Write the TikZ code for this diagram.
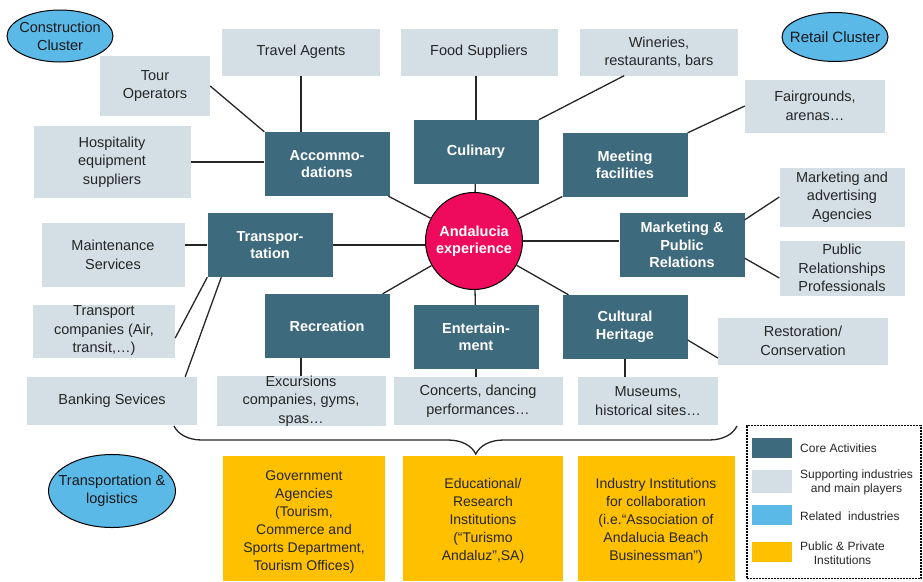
\documentclass[tikz,border=0pt]{standalone}
\usepackage{fontspec}
\setmainfont{Liberation Sans}
\usetikzlibrary{shapes.geometric,decorations.pathreplacing,calc}
\definecolor{corec}{HTML}{3E6A7E}
\definecolor{suppc}{HTML}{D3DFE5}
\definecolor{relc}{HTML}{5BB9E8}
\definecolor{pubc}{HTML}{FFC000}
\definecolor{hubc}{HTML}{EE0A5C}
\begin{document}
\begin{tikzpicture}[x=1pt,y=-1pt,
  corebox/.style={fill=corec, text=white, font=\fontsize{14.5}{17.5}\selectfont\bfseries, align=center, inner sep=0pt, minimum width=125pt, minimum height=64pt},
  suppbox/.style={fill=suppc, text=black!85, font=\fontsize{14.5}{18.5}\selectfont, align=center, inner sep=0pt},
  pubbox/.style={fill=pubc, text=black!85, font=\fontsize{14}{18}\selectfont, align=center, inner sep=0pt, minimum height=125pt},
  relell/.style={ellipse, draw=black, line width=1pt, fill=relc, inner sep=0pt},
  reltext/.style={align=center, inner sep=0pt, text=black!90, font=\fontsize{14.5}{18}\selectfont},
  link/.style={draw=black!85, line width=1.3pt},
  swatch/.style={inner sep=0pt, minimum width=40pt, minimum height=20pt},
  legtext/.style={font=\fontsize{12}{14}\selectfont, align=center, anchor=west, inner sep=0pt, text=black!85}
]
\useasboundingbox (0,0) rectangle (923,581);

% related industries
\node[relell, minimum width=106pt, minimum height=52pt] (constr) at (60,36) {};
\node[reltext] (constrt) at (60,36) {Construction\\Cluster};
\node[relell, minimum width=106pt, minimum height=49pt] (retail) at (835,37) {};
\node[reltext, font=\fontsize{15}{18}\selectfont] (retailt) at (835,37) {Retail Cluster};
\node[relell, minimum width=127pt, minimum height=73pt] (tlog) at (112,491) {};
\node[reltext] (tlogt) at (112,491) {Transportation \&\\logistics};

% hub
\node[circle, draw=black, line width=1pt, fill=hubc, minimum size=97pt, inner sep=0pt, text=white, align=center, font=\fontsize{14.5}{17.5}\selectfont\bfseries] (exp) at (474,241) {Andalucia\\experience};

% core activities
\node[corebox] (acc) at (327,164) {Accommo-\\dations};
\node[corebox] (cul) at (476,152) {Culinary};
\node[corebox] (meet) at (625,165) {Meeting\\facilities};
\node[corebox] (trans) at (270,245) {Transpor-\\tation};
\node[corebox] (mkt) at (682,245) {Marketing \&\\Public\\Relations};
\node[corebox] (rec) at (327,326) {Recreation};
\node[corebox] (ent) at (476,337) {Entertain-\\ment};
\node[corebox] (cult) at (625,327) {Cultural\\Heritage};

% supporting industries
\node[suppbox, minimum width=158pt, minimum height=47pt] (travel) at (301,52) {Travel Agents};
\node[suppbox, minimum width=157pt, minimum height=47pt] (food) at (479,52) {Food Suppliers};
\node[suppbox, minimum width=158pt, minimum height=47pt] (win) at (659,52) {Wineries,\\restaurants, bars};
\node[suppbox, minimum width=110pt, minimum height=60pt] (tour) at (155,86) {Tour\\Operators};
\node[suppbox, minimum width=157pt, minimum height=72pt] (hosp) at (112,162) {Hospitality\\equipment\\suppliers};
\node[suppbox, minimum width=140pt, minimum height=53pt] (fair) at (815,106) {Fairgrounds,\\arenas\dots};
\node[suppbox, minimum width=125pt, minimum height=59pt] (adv) at (842,197) {Marketing and\\advertising\\Agencies};
\node[suppbox, minimum width=125pt, minimum height=55pt] (pr) at (842,268) {Public\\Relationships\\Professionals};
\node[suppbox, minimum width=143pt, minimum height=64pt] (maint) at (113,255) {Maintenance\\Services};
\node[suppbox, minimum width=142pt, minimum height=53pt] (tco) at (104,331) {Transport\\companies (Air,\\transit,\dots)};
\node[suppbox, minimum width=170pt, minimum height=48pt] (bank) at (112,401) {Banking Sevices};
\node[suppbox, minimum width=169pt, minimum height=48pt] (exc) at (301,401) {Excursions\\companies, gyms,\\spas\dots};
\node[suppbox, minimum width=169pt, minimum height=48pt] (conc) at (478,401) {Concerts, dancing\\performances\dots};
\node[suppbox, minimum width=140pt, minimum height=48pt] (mus) at (648,401) {Museums,\\historical sites\dots};
\node[suppbox, minimum width=170pt, minimum height=47pt] (rest) at (803,341) {Restoration/\\Conservation};

% public & private institutions
\node[pubbox, minimum width=162pt] (gov) at (304,518) {};
\node[font=\fontsize{14}{18}\selectfont, align=center, text=black!85] (govt) at (304,522) {Government\\Agencies\\(Tourism,\\Commerce and\\Sports Department,\\Tourism Offices)};
\node[pubbox, minimum width=160pt] (edu) at (483,518) {};
\node[font=\fontsize{14}{18}\selectfont, align=center, text=black!85] (edut) at (483,521) {Educational/\\Research\\Institutions\\(“Turismo\\Andaluz”,SA)};
\node[pubbox, minimum width=157pt] (ind) at (656,518) {};
\node[font=\fontsize{14}{18}\selectfont, align=center, text=black!85] (indt) at (656,521) {Industry Institutions\\for collaboration\\(i.e.“Association of\\Andalucia Beach\\Businessman”)};

% connectors
\draw[link] (travel.south) -- (travel.south |- acc.north);
\draw[link] (tour.east) -- (acc.north west);
\draw[link] (hosp.east) -- (hosp.east -| acc.west);
\draw[link] (cul.north) -- (cul.north |- food.south);
\draw[link] ($(win.south west)!0.28!(win.south east)$) -- (cul.north east);
\draw[link] (fair.west) -- (meet.north east);
\draw[link] (acc) -- (exp);
\draw[link] (cul) -- (exp);
\draw[link] (meet) -- (exp);
\draw[link] (trans.east) -- (trans.east -| exp.west);
\draw[link] (exp.east) -- (exp.east -| mkt.west);
\draw[link] (rec) -- (exp);
\draw[link] (ent) -- (exp);
\draw[link] (cult) -- (exp);
\draw[link] ($(mkt.north east)+(0,7)$) -- (adv.west);
\draw[link] ($(mkt.south east)+(0,-19)$) -- ($(pr.west)+(0,10)$);
\draw[link] (maint.east |- trans.west) -- (trans.west);
\draw[link] (trans.south west) -- ($(tco.east)+(0,7)$);
\draw[link] ($(trans.south west)+(14,0)$) -- ($(bank.north east)+(-12,0)$);
\draw[link] (exc.north) -- (exc.north |- rec.south);
\draw[link] (ent.south) -- (ent.south |- conc.north);
\draw[link] (cult.south) -- (cult.south |- mus.north);
\draw[link] ($(cult.east)+(0,13)$) -- ($(rest.west)+(0,17)$);

% brace
\coordinate (bl) at (174,426);
\coordinate (br) at (737,426);
\draw[line width=1.3pt, black!85, decorate, decoration={brace, mirror, amplitude=28pt, aspect=0.536}] (bl) -- (br);

% legend
\node[draw=black, line width=1.8pt, dash pattern=on 2pt off 1pt, minimum width=174pt, minimum height=153pt, inner sep=0pt] (legend) at (834,502) {};
\node[swatch, fill=corec] (lg1) at (772,448) {};
\node[legtext] (lt1) at (800,448) {Core Activities};
\node[swatch, fill=suppc, minimum height=23pt] (lg2) at (772,481) {};
\node[legtext] (lt2) at (800,482) {Supporting industries\\and main players};
\node[swatch, fill=relc] (lg3) at (772,515) {};
\node[legtext] (lt3) at (800,516) {Related\ \ industries};
\node[swatch, fill=pubc] (lg4) at (772,552) {};
\node[legtext] (lt4) at (800,553) {Public \& Private\\Institutions};
\end{tikzpicture}
\end{document}
